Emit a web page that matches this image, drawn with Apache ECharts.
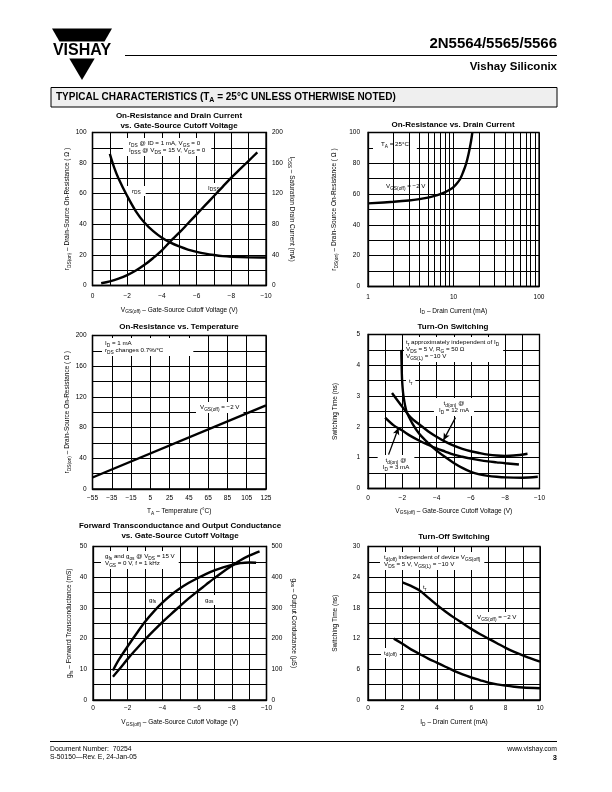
<!DOCTYPE html>
<html><head><meta charset="utf-8">
<script src="https://cdn.jsdelivr.net/npm/echarts@6/dist/echarts.min.js"></script>
<style>html,body{margin:0;padding:0;background:#fff}#c{width:612px;height:792px}</style>
</head><body><div id="c"></div>
<script>
const FONT = '"Liberation Sans", Arial, Helvetica, sans-serif';

// ---- Chart 1: On-Resistance and Drain Current vs VGS(off)
const c1RdsV = [-1.0,-1.25,-1.5,-2,-2.5,-3,-3.5,-4,-4.5,-5,-5.5,-6,-6.5,-7,-7.5,-8,-9,-10];
const c1Rds  = [86,77,70,58.5,48.5,41,35.5,31.2,28,25.5,23.5,22,20.8,19.9,19.2,18.8,18.4,18.3];
const c1IdssV = [-0.5,-1,-1.5,-2,-2.5,-3,-3.5,-4,-4.5,-5,-5.5,-6,-6.5,-7,-7.5,-8,-8.5,-9,-9.5];
const c1Idss  = [3,5.5,9,13.5,19.5,27,36,46,58,69,81,93,105,117,129,141,152,163,174];

// ---- Chart 2: On-Resistance vs Drain Current (log x)
const c2Id  = [1,2,3,4,5,6,7,8,9,10,11,12,13,14,15,16,16.6];
const c2Rds = [54,55,55.8,56.7,57.7,58.8,60,61.3,62.8,64.5,67,70,74.5,79.5,86,94,100];
const c2LogMinor = [2,3,4,5,6,7,8,9,20,30,40,50,60,70,80,90];

// ---- Chart 3: On-Resistance vs Temperature
const c3Temp = [-55, 125];
const c3Rds  = [15, 109];
const C3MIN = -55;

// ---- Chart 4: Turn-On Switching
const c4TrV = [-1.94,-1.96,-1.99,-2.07,-2.25,-2.6,-3,-3.5,-4,-4.5,-5,-5.5,-6,-6.5,-7,-7.5,-8,-9,-9.9];
const c4Tr  = [4.5,4.0,3.5,3.0,2.5,2.1,1.77,1.48,1.23,1.02,0.83,0.67,0.54,0.46,0.41,0.38,0.36,0.35,0.38];
const c4Td12V = [-1.4,-2,-2.5,-3,-3.5,-4,-4.5,-5,-5.5,-6,-6.5,-7,-7.5,-8,-8.5,-9.3];
const c4Td12  = [3.1,2.65,2.3,2.08,1.86,1.68,1.52,1.39,1.29,1.21,1.15,1.1,1.07,1.06,1.07,1.13];
const c4Td3V = [-1,-1.5,-2,-2.5,-3,-3.5,-4,-4.5,-5,-5.5,-6,-6.5,-7,-7.5,-8,-8.8];
const c4Td3  = [2.3,2.05,1.88,1.7,1.55,1.42,1.3,1.2,1.1,1.03,0.97,0.92,0.88,0.85,0.82,0.78];
const c4Arrow12 = [[-5.1, 2.3], [-4.4, 1.57]];
const c4Arrow3  = [[-1.2, 1.1], [-1.78, 1.97]];

// ---- Chart 5: gfs and gos vs VGS(off)
const c5GfsV = [-1.15,-1.5,-2,-2.5,-3,-3.5,-4,-4.5,-5,-5.5,-6,-6.5,-7,-7.5,-8,-8.5,-9,-9.4];
const c5Gfs  = [9.6,13.2,17.5,21.6,25.5,28.8,31.7,34.2,36.3,38.1,39.6,41,42.2,43.2,44,44.6,44.8,44.7];
const c5GosV = [-1.15,-1.5,-2,-2.5,-3,-3.5,-4,-4.5,-5,-5.5,-6,-6.5,-7,-7.5,-8,-8.5,-9,-9.6];
const c5Gos  = [76,99,134,166,197,226,254,280,305,330,353,375,397,418,437,455,470,484];

// ---- Chart 6: Turn-Off Switching
const c6TrId = [2,2.5,3,3.5,4,4.5,5,5.5,6,6.5,7,7.5,8,8.5,9,9.5,10];
const c6Tr   = [23,22.3,21.4,20,18.6,17.3,16.1,15,13.9,12.9,12,11.1,10.2,9.4,8.7,8.1,7.5];
const c6TdId = [1.5,2,2.5,3,3.5,4,4.5,5,5.5,6,6.5,7,7.5,8,8.5,9,10];
const c6Td   = [12,11,9.9,9,8.1,7.3,6.5,5.7,5,4.4,3.9,3.4,3.05,2.8,2.6,2.45,2.3];

const zip = (xs, ys) => xs.map((x, i) => [x, ys[i]]);
const minus = v => (v < 0 ? '\u2212' + Math.abs(v) : String(v));
const every = n => v => (Math.abs(v / n - Math.round(v / n)) < 1e-6 ? minus(+v.toFixed(4)) : '');

const SUB = { s: { fontSize: 4.8, fontFamily: FONT, padding: [4, 0, 0, 0], color: '#000' } };

function nameStyle() {
  return { fontSize: 6.5, fontFamily: FONT, color: '#000', rich: SUB };
}
function axisBase(o) {
  return Object.assign({
    type: 'value',
    axisLine: { show: true, onZero: false, lineStyle: { color: '#000', width: 1.3 } },
    axisTick: { show: false },
    splitLine: { show: true, lineStyle: { color: '#000', width: 1 } },
    axisLabel: { fontSize: 6.5, fontFamily: FONT, color: '#000', margin: 6 },
    nameLocation: 'middle',
    nameTextStyle: nameStyle()
  }, o);
}
function lbl(fmt, margin) {
  return { fontSize: 6.5, fontFamily: FONT, color: '#000', margin: margin || 6, formatter: fmt };
}

const VGSNAME = 'V{s|GS(off)} \u2013 Gate-Source Cutoff Voltage (V)';
const RDSNAME = 'r{s|DS(on)} \u2013 Drain-Source On-Resistance ( \u03A9 )';

const grids = [
  { left: 92.5, top: 132.5, width: 173.5, height: 153 },
  { left: 368,  top: 132.5, width: 171,   height: 154 },
  { left: 92.5, top: 335.5, width: 173.5, height: 153.5 },
  { left: 368,  top: 334.5, width: 171.5, height: 154 },
  { left: 93,   top: 546.5, width: 173.5, height: 153.5 },
  { left: 368,  top: 546.5, width: 172,   height: 153.5 }
].map(g => Object.assign({ show: true, borderColor: '#000', borderWidth: 1.3, backgroundColor: 'transparent' }, g));

const xAxes = [
  axisBase({ gridIndex: 0, min: -10, max: 0, interval: 1, inverse: true, axisLabel: lbl(every(2), 7), name: VGSNAME, nameGap: 20 }),
  axisBase({ gridIndex: 1, type: 'log', logBase: 10, min: 1, max: 100, axisLabel: lbl(v => String(v), 7), name: 'I{s|D} \u2013 Drain Current (mA)', nameGap: 20, minorTick: { show: false }, minorSplitLine: { show: false } }),
  axisBase({ gridIndex: 2, min: 0, max: 180, interval: 20, axisLabel: lbl(v => minus(v + C3MIN), 6), name: 'T{s|A} \u2013 Temperature (\u00B0C)', nameGap: 18 }),
  axisBase({ gridIndex: 3, min: -10, max: 0, interval: 1, inverse: true, axisLabel: lbl(every(2), 6), name: VGSNAME, nameGap: 18 }),
  axisBase({ gridIndex: 4, min: -10, max: 0, interval: 1, inverse: true, axisLabel: lbl(every(2), 5), name: VGSNAME, nameGap: 18 }),
  axisBase({ gridIndex: 5, min: 0, max: 10, interval: 1, axisLabel: lbl(every(2), 5), name: 'I{s|D} \u2013 Drain Current (mA)', nameGap: 18 })
];

const yAxes = [
  axisBase({ gridIndex: 0, min: 0, max: 100, interval: 10, axisLabel: lbl(every(20), 6), name: RDSNAME, nameGap: 19 }),
  axisBase({ gridIndex: 0, position: 'right', min: 0, max: 200, interval: 20, splitLine: { show: false }, axisLabel: lbl(every(40), 6), name: 'I{s|DSS} \u2013 Saturation Drain Current (mA)', nameGap: 21, nameRotate: -90 }),
  axisBase({ gridIndex: 1, min: 0, max: 100, interval: 10, axisLabel: lbl(every(20), 8), name: RDSNAME, nameGap: 29 }),
  axisBase({ gridIndex: 2, min: 0, max: 200, interval: 20, axisLabel: lbl(every(40), 6), name: RDSNAME, nameGap: 19 }),
  axisBase({ gridIndex: 3, min: 0, max: 5, interval: 0.5, axisLabel: lbl(every(1), 8), name: 'Switching Time (ns)', nameGap: 29 }),
  axisBase({ gridIndex: 4, min: 0, max: 50, interval: 5, axisLabel: lbl(every(10), 6), name: 'g{s|fs} \u2013 Forward Transconductance (mS)', nameGap: 19 }),
  axisBase({ gridIndex: 4, position: 'right', min: 0, max: 500, interval: 50, splitLine: { show: false }, axisLabel: lbl(every(100), 5), name: 'g{s|os} \u2013 Output Conductance (\u03BCS)', nameGap: 23, nameRotate: -90 }),
  axisBase({ gridIndex: 5, min: 0, max: 30, interval: 3, axisLabel: lbl(every(6), 8), name: 'Switching Time (ns)', nameGap: 29 })
];

const CURVE = { color: '#000', width: 2.4 };
function curve(xi, yi, data) {
  return { type: 'line', xAxisIndex: xi, yAxisIndex: yi, data: data, smooth: 0.35, symbol: 'none', lineStyle: CURVE, z: 3, silent: true };
}
function arrow(pair) {
  return [{ coord: pair[0], symbol: 'none' }, { coord: pair[1], symbol: 'arrow' }];
}

const series = [
  curve(0, 0, zip(c1RdsV, c1Rds)),
  curve(0, 1, zip(c1IdssV, c1Idss)),
  { type: 'line', xAxisIndex: 1, yAxisIndex: 2, data: [], z: 0, silent: true,
    markLine: { silent: true, symbol: 'none', label: { show: false }, animation: false,
      lineStyle: { color: '#000', width: 1, type: 'solid' },
      data: c2LogMinor.map(v => ({ xAxis: v })) } },
  curve(1, 2, zip(c2Id, c2Rds)),
  Object.assign(curve(2, 3, zip(c3Temp.map(t => t - C3MIN), c3Rds)), { smooth: false }),
  Object.assign(curve(3, 4, zip(c4TrV, c4Tr)), { smooth: 0.3 }),
  curve(3, 4, zip(c4Td12V, c4Td12)),
  Object.assign(curve(3, 4, zip(c4Td3V, c4Td3)), {
    markLine: { silent: true, symbolSize: [5, 7], label: { show: false }, animation: false,
      lineStyle: { color: '#000', width: 1.3, type: 'solid' },
      data: [arrow(c4Arrow12), arrow(c4Arrow3)] } }),
  curve(4, 5, zip(c5GfsV, c5Gfs)),
  curve(4, 6, zip(c5GosV, c5Gos)),
  curve(5, 7, zip(c6TrId, c6Tr)),
  curve(5, 7, zip(c6TdId, c6Td))
];

function ttl(text, cx, top) {
  return { text: text, left: cx, top: top, textAlign: 'center', padding: 0,
    textStyle: { fontSize: 8, fontWeight: 'bold', fontFamily: FONT, color: '#000', lineHeight: 9.5 } };
}
const titles = [
  ttl('On-Resistance and Drain Current\nvs. Gate-Source Cutoff Voltage', 179, 111.5),
  ttl('On-Resistance vs. Drain Current', 453, 120.5),
  ttl('On-Resistance vs. Temperature', 179, 322),
  ttl('Turn-On Switching', 453, 322),
  ttl('Forward Transconductance and Output Conductance\nvs. Gate-Source Cutoff Voltage', 180, 521.5),
  ttl('Turn-Off Switching', 454, 532)
];

function ann(x, y, text, o) {
  o = o || {};
  return { type: 'text', x: x, y: y, z: 1, silent: true,
    style: { text: text, fontSize: 6.2, fontFamily: FONT, fill: '#000', rich: SUB,
      align: o.align || 'left', verticalAlign: 'top', lineHeight: o.lh || 7,
      backgroundColor: o.bg === false ? null : '#fff', padding: o.pad || [1.5, 4, 1.5, 4] } };
}

const graphics = [
  // header
  { type: 'polygon', shape: { points: [[52,28.5],[112,28.5],[104.5,41.5],[59.5,41.5]] }, style: { fill: '#000' } },
  { type: 'polygon', shape: { points: [[69.3,58.5],[94.7,58.5],[82,80]] }, style: { fill: '#000' } },
  { type: 'text', x: 82, y: 50.5, style: { text: 'VISHAY', fontSize: 16, fontWeight: 'bold', fontFamily: FONT, fill: '#000', align: 'center', verticalAlign: 'middle' } },
  { type: 'line', shape: { x1: 125, y1: 55.5, x2: 557, y2: 55.5 }, style: { stroke: '#000', lineWidth: 1 } },
  { type: 'text', x: 557, y: 44, style: { text: '2N5564/5565/5566', fontSize: 15, fontWeight: 'bold', fontFamily: FONT, fill: '#000', align: 'right', verticalAlign: 'middle' } },
  { type: 'text', x: 557, y: 67, style: { text: 'Vishay Siliconix', fontSize: 11.5, fontWeight: 'bold', fontFamily: FONT, fill: '#000', align: 'right', verticalAlign: 'middle' } },
  { type: 'rect', shape: { x: 51, y: 87.5, width: 506, height: 19.5 }, style: { fill: '#efefef', stroke: '#000', lineWidth: 1 } },
  { type: 'text', x: 56, y: 97.5, style: { text: 'TYPICAL CHARACTERISTICS (T{a|A} = 25\u00B0C UNLESS OTHERWISE NOTED)', fontSize: 10, fontWeight: 'bold', fontFamily: FONT, fill: '#000', align: 'left', verticalAlign: 'middle',
    rich: { a: { fontSize: 7, fontWeight: 'bold', fontFamily: FONT, padding: [5, 0, 0, 0] } } } },
  // footer
  { type: 'line', shape: { x1: 50, y1: 741.5, x2: 557, y2: 741.5 }, style: { stroke: '#000', lineWidth: 1 } },
  { type: 'text', x: 50, y: 749.5, style: { text: 'Document Number:  70254', fontSize: 6.8, fontFamily: FONT, fill: '#000', verticalAlign: 'middle' } },
  { type: 'text', x: 50, y: 757, style: { text: 'S-50150\u2014Rev. E, 24-Jan-05', fontSize: 6.8, fontFamily: FONT, fill: '#000', verticalAlign: 'middle' } },
  { type: 'text', x: 557, y: 749.5, style: { text: 'www.vishay.com', fontSize: 6.8, fontFamily: FONT, fill: '#000', align: 'right', verticalAlign: 'middle' } },
  { type: 'text', x: 557, y: 757.5, style: { text: '3', fontSize: 7.5, fontWeight: 'bold', fontFamily: FONT, fill: '#000', align: 'right', verticalAlign: 'middle' } },

  // chart 1 annotations
  ann(123, 138, 'r{s|DS} @ ID = 1 mA, V{s|GS} = 0\nI{s|DSS} @ V{s|DS} = 15 V, V{s|GS} = 0', { pad: [2, 6, 2, 6] }),
  ann(127, 186, 'r{s|DS}', { pad: [1.5, 5, 1.5, 5] }),
  ann(205, 183, 'I{s|DSS}', { pad: [1.5, 3, 1.5, 3] }),
  // chart 2
  ann(373, 139, 'T{s|A} = 25\u00B0C', { pad: [2, 8, 2, 8] }),
  ann(382, 181, 'V{s|GS(off)} = \u22122 V', { pad: [2, 4, 2, 4] }),
  // chart 3
  ann(102, 338, 'I{s|D} = 1 mA\nr{s|DS} changes 0.7%/\u00B0C', { pad: [2, 30, 2, 3] }),
  ann(196, 402, 'V{s|GS(off)} = \u22122 V', { pad: [2, 4, 2, 4] }),
  // chart 4
  ann(404, 337, 't{s|r} approximately independent of I{s|D}\nV{s|DS} = 5 V, R{s|G} = 50 \u03A9\nV{s|GS(L)} = \u221210 V', { pad: [2, 4, 2, 2] }),
  ann(406, 377, 't{s|r}', { pad: [1, 3, 1, 3] }),
  ann(454, 398, 't{s|d(on)} @\nI{s|D} = 12 mA', { align: 'center', pad: [2, 5, 2, 5] }),
  ann(396, 455, 't{s|d(on)} @\nI{s|D} = 3 mA', { align: 'center', pad: [2, 5, 2, 5] }),
  // chart 5
  ann(101, 551, 'g{s|fs} and g{s|os} @ V{s|DS} = 15 V\nV{s|GS} = 0 V, f = 1 kHz', { pad: [2, 4, 2, 4] }),
  ann(146, 595, 'g{s|fs}', { pad: [1.5, 3, 1.5, 3] }),
  ann(202, 595, 'g{s|os}', { pad: [1.5, 3, 1.5, 3] }),
  // chart 6
  ann(380, 552, 't{s|d(off)} independent of device V{s|GS(off)}\nV{s|DS} = 5 V, V{s|GS(L)} = \u221210 V', { pad: [2, 4, 2, 4] }),
  ann(420, 583, 't{s|r}', { pad: [1, 3, 1, 3] }),
  ann(472, 612, 'V{s|GS(off)} = \u22122 V', { pad: [2, 5, 2, 5] }),
  ann(381, 648, 't{s|d(off)}', { pad: [1.5, 3, 1.5, 3] })
];

const chart = echarts.init(document.getElementById('c'), null, { renderer: 'canvas' });
chart.setOption({
  animation: false,
  backgroundColor: '#fff',
  title: titles,
  grid: grids,
  xAxis: xAxes,
  yAxis: yAxes,
  series: series,
  graphic: { elements: graphics }
});
</script>
</body></html>
